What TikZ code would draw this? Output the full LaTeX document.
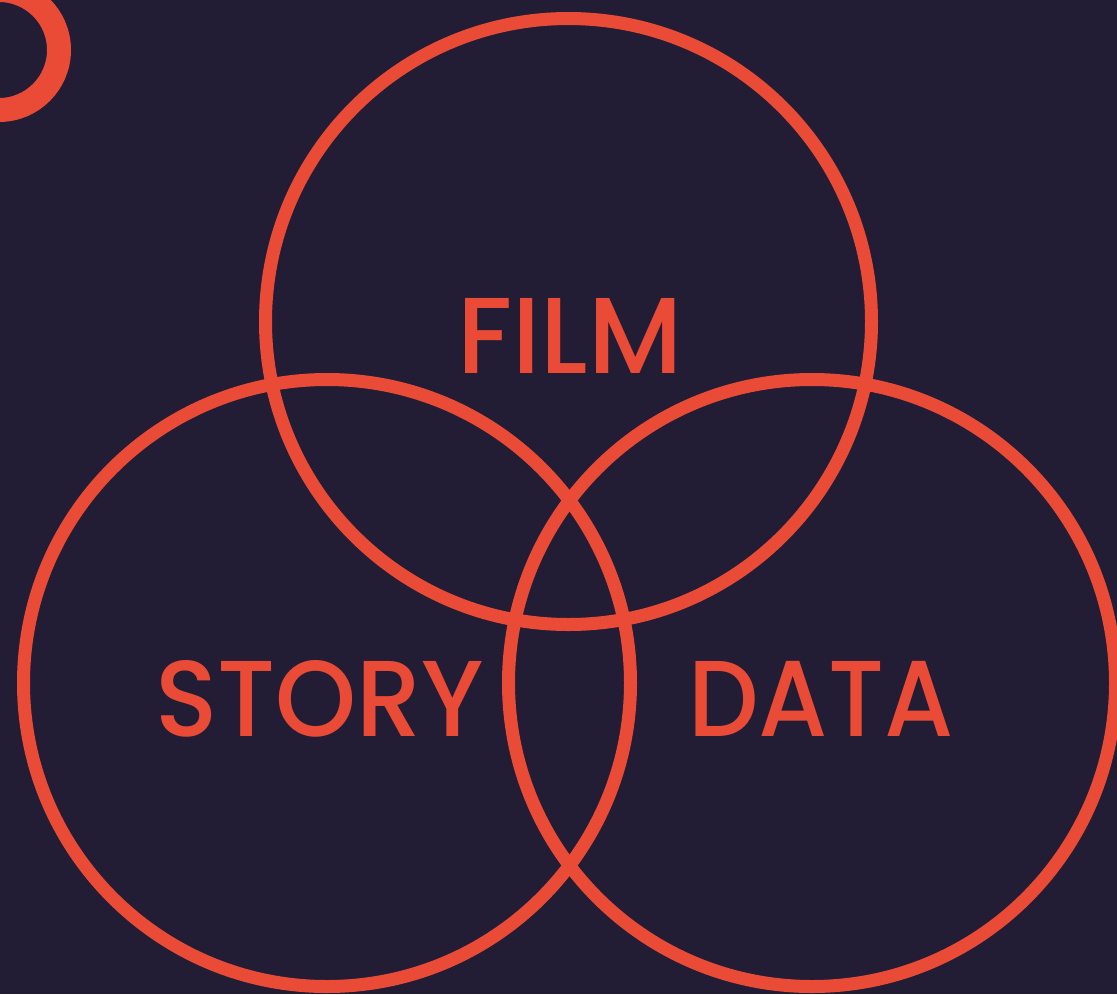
\documentclass[tikz,border=0pt]{standalone}
\usepackage{fontspec}
\newfontfamily\labelfont{Poppins Medium}
\definecolor{night}{RGB}{34,29,52}
\definecolor{ember}{RGB}{233,75,54}
\begin{document}
\begin{tikzpicture}[x=1pt,y=-1pt,
  ring/.style={draw=ember,line width=13pt},
  setlabel/.style={text=ember,font=\labelfont\fontsize{108}{108}\selectfont,anchor=base,inner sep=0pt}]
  % background
  \fill[night] (0,0) rectangle (1117,994);
  \useasboundingbox (0,0) rectangle (1117,994);
  % centres of the three sets
  \coordinate (cfilm) at (568.5,321.5);
  \coordinate (cstory) at (327,683);
  \coordinate (cdata) at (812,683);
  % corner ring
  \draw[draw=ember,line width=24pt] (-1,50) circle[radius=60];
  % set circles
  \draw[ring] (cfilm) circle[radius=303];
  \draw[ring] (cstory) circle[radius=303.5];
  \draw[ring] (cdata) circle[radius=303.5];
  % labels, narrowed slightly to keep their set widths
  \node[setlabel] (film) at (570,373) {\scalebox{0.99}[1]{FILM}};
  \node[setlabel] (story) at (319.5,736) {\scalebox{0.955}[1]{STORY}};
  \node[setlabel] (data) at (821,736) {\scalebox{0.92}[1]{DATA}};
\end{tikzpicture}
\end{document}
